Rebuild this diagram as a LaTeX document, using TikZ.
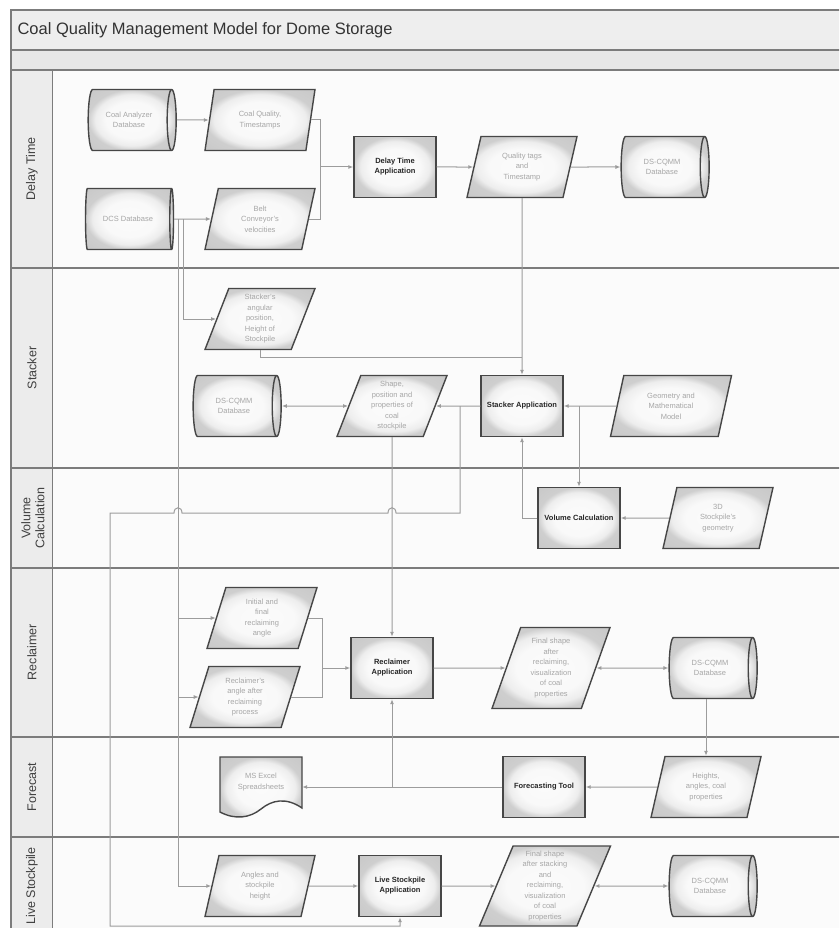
\documentclass[tikz,border=0pt]{standalone}
\usepackage{fontspec}
\setmainfont{Liberation Sans}
\usetikzlibrary{shapes.geometric,arrows.meta,calc}
\definecolor{linegray}{HTML}{9C9C9C}
\definecolor{framegray}{HTML}{7C7C7C}
\definecolor{boxedge}{HTML}{464646}
\definecolor{txtgray}{HTML}{A6A6A6}
\pgfdeclareradialshading{glow}{\pgfpoint{0bp}{0bp}}{color(0bp)=(gray!3); color(15bp)=(gray!5); color(21bp)=(gray!14); color(25bp)=(gray!38); color(50bp)=(gray!50)}
\begin{document}
\begin{tikzpicture}[x=1pt,y=-1pt,
  conn/.style={draw=linegray, line width=1pt},
  arr/.style={conn, -{Latex[length=5pt,width=4pt]}},
  dbl/.style={conn, {Latex[length=5pt,width=4pt]}-{Latex[length=5pt,width=4pt]}},
  proc/.style={rectangle, draw=boxedge, line width=1.4pt, shading=glow,
    minimum width=82pt, minimum height=61pt, font=\fontsize{7.5}{10}\selectfont\bfseries,
    text=black!85, align=center, inner sep=1pt},
  data/.style={trapezium, trapezium left angle=65, trapezium right angle=115,
    trapezium stretches body, draw=boxedge, line width=1.4pt, shading=glow,
    minimum width=110pt, minimum height=61pt, font=\fontsize{7.5}{10.5}\selectfont,
    text=txtgray, align=center, inner sep=1pt},
  db/.style={cylinder, aspect=0.5, draw=boxedge, line width=1.4pt, shading=glow,
    minimum width=61pt, minimum height=88pt, font=\fontsize{7.5}{10.5}\selectfont,
    text=txtgray, align=center, inner sep=1pt},
  docbox/.style={rectangle, minimum width=82pt, minimum height=50pt, font=\fontsize{7.5}{10.5}\selectfont,
    text=txtgray, align=center, inner sep=1pt},
  lanelabel/.style={rotate=90, font=\fontsize{12.5}{14}\selectfont, text=black!75, align=center},
]
\useasboundingbox (0,0) rectangle (839,928);
\fill[white] (0,0) rectangle (839,928);
\begin{scope}
  \clip (0,0) rectangle (839,928);
  \fill[gray!3] (52,70) rectangle (850,940);
  \fill[gray!13] (11,10) rectangle (850,50);
  \fill[gray!18] (11,50) rectangle (850,70);
  \fill[gray!15] (11,70) rectangle (52,940);
  \draw[framegray, line width=1.3pt] (11,940) -- (11,10) -- (850,10);
  \draw[framegray, line width=1.3pt] (11,50) -- (850,50);
  \draw[framegray, line width=1.3pt] (11,70) -- (850,70);
  \draw[framegray, line width=1pt] (52,70) -- (52,940);
  \foreach \yy in {268,468,568,737,837} \draw[framegray, line width=1.3pt] (11,\yy) -- (850,\yy);
\end{scope}

\node[anchor=west, font=\fontsize{16.5}{18}\selectfont, text=black!80] (title) at (14,30) {Coal Quality Management Model for Dome Storage};

\node[lanelabel] (lane1) at (32,169) {Delay Time};
\node[lanelabel] (lane2) at (32,368) {Stacker};
\node[lanelabel] (lane3) at (33,518) {Volume\\Calculation};
\node[lanelabel] (lane4) at (32,652) {Reclaimer};
\node[lanelabel] (lane5) at (32,787) {Forecast};
\node[lanelabel] (lane6) at (32,886) {Live Stockpile};

% Delay Time
\node[db] (cad) at (129,120) {Coal Analyzer\\Database};
\node[data] (cq) at (260,120) {Coal Quality,\\Timestamps};
\node[proc] (dta) at (395,167) {Delay Time\\Application};
\node[db] (dcs) at (128,219) {DCS Database};
\node[data] (bcv) at (260,219) {Belt\\Conveyor's\\velocities};
\node[data] (qt) at (522,167) {Quality tags\\and\\Timestamp};
\node[db] (ds1) at (662,167) {DS-CQMM\\Database};

% Stacker
\node[data] (sap) at (260,319) {Stacker's\\angular\\position,\\Height of\\Stockpile};
\node[db] (ds2) at (234,406) {DS-CQMM\\Database};
\node[data] (shp) at (392,406) {Shape,\\position and\\properties of\\coal\\stockpile};
\node[proc] (sta) at (522,406) {Stacker Application};
\node[data, minimum width=121pt] (geo) at (671,406) {Geometry and\\Mathematical\\Model};

% Volume
\node[proc] (vc) at (579,518) {Volume Calculation};
\node[data] (g3d) at (718,518) {3D\\Stockpile's\\geometry};

% Reclaimer
\node[data] (ifr) at (262,618) {Initial and\\final\\reclaiming\\angle};
\node[data] (rab) at (245,697) {Reclaimer's\\angle after\\reclaiming\\process};
\node[proc] (rca) at (392,668) {Reclaimer\\Application};
\node[data, minimum width=118pt, minimum height=81pt] (fsr) at (551,668) {Final shape\\after\\reclaiming,\\visualization\\of coal\\properties};
\node[db] (ds3) at (710,668) {DS-CQMM\\Database};

% Forecast
\shade[draw=boxedge, line width=1.4pt, shading=glow]
  (220,757) -- (302,757) -- (302,808) .. controls (286,797) and (272,800) .. (261,809)
  .. controls (250,818) and (235,820) .. (220,812) -- cycle;
\node[docbox] (mse) at (261,782) {MS Excel\\Spreadsheets};
\node[proc] (fct) at (544,787) {Forecasting Tool};
\node[data] (hac) at (706,787) {Heights,\\angles, coal\\properties};

% Live Stockpile
\node[data] (asp) at (260,886) {Angles and\\stockpile\\height};
\node[proc] (lsa) at (400,886) {Live Stockpile\\Application};
\node[data, minimum width=131pt, minimum height=80pt] (fss) at (545,886) {Final shape\\after stacking\\and\\reclaiming,\\visualization\\of coal\\properties};
\node[db] (ds4) at (710,886) {DS-CQMM\\Database};

% connectors
\coordinate (j1) at (320,167);
\draw[arr] (cad.east) -- (cq.west);
\draw[conn] (cq.east) -| (j1);
\draw[conn] (bcv.east) -| (j1);
\draw[arr] (j1) -- (dta.west);
\draw[arr] (dcs.east) -- (bcv.west);
\draw[arr] (dta.east) -- (qt.west);
\draw[arr] (qt.east) -- (ds1.west);
\coordinate (d1) at (183,219);
\coordinate (d2) at (178,219);
\draw[arr] (d1) |- (sap.west);
\draw[arr] (d2) |- (ifr.west);
\draw[arr] (d2) |- (rab.west);
\draw[arr] (d2) |- (asp.west);
\draw[arr] (qt.south) -- (sta.north);
\coordinate (j2) at (522,357);
\draw[conn] (sap.south) |- (j2);
\draw[dbl] (ds2.east) -- (shp.west);
\draw[arr] (sta.west) -- (shp.east);
\draw[arr] (geo.west) -- (sta.east);
\coordinate (j8) at (vc.north |- sta.east);
\draw[arr] (j8) -- (vc.north);
\draw[arr] (vc.west) -| (sta.south);
\draw[arr] (g3d.west) -- (vc.east);
\draw[arr] (shp.south) -- (rca.north);
\coordinate (j9) at (322,668);
\draw[conn] (ifr.east) -| (j9);
\draw[conn] (rab.east) -| (j9);
\draw[arr] (j9) -- (rca.west);
\draw[arr] (rca.east) -- (fsr.west);
\draw[dbl] (fsr.east) -- (ds3.west);
\draw[arr] (hac.north |- ds3.south) -- (hac.north);
\draw[arr] (hac.west) -- (fct.east);
\draw[arr] (fct.west) -- (fct.west -| mse.east);
\coordinate (j10) at (rca.south |- fct.west);
\draw[arr] (j10) -- (rca.south);
\draw[arr] (asp.east) -- (lsa.west);
\draw[arr] (lsa.east) -- (fss.west);
\draw[dbl] (fss.east) -- (ds4.west);
\coordinate (j3) at (460,406);
\coordinate (j4) at (460,513);
\coordinate (j6) at (110,513);
\coordinate (j7) at (110,926);
\draw[arr] (j3) -- (j4) -- (396,513) .. controls (396,506) and (388,506) .. (388,513)
  -- (182,513) .. controls (182,506) and (174,506) .. (174,513)
  -- (j6) -- (j7) -- (lsa.south |- j7) -- (lsa.south);
\end{tikzpicture}
\end{document}
